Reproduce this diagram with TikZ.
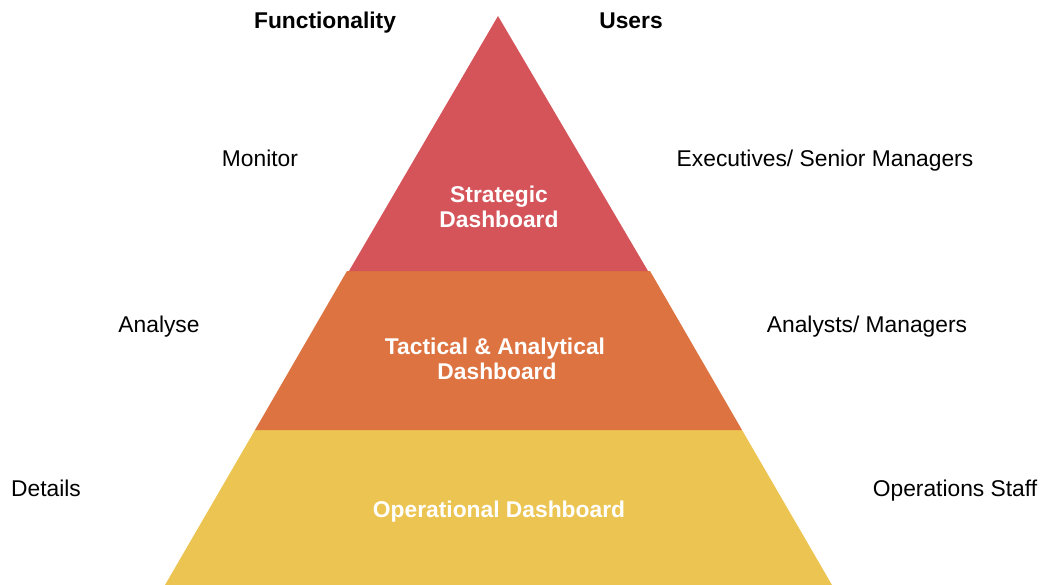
\documentclass[tikz,border=0pt]{standalone}
\usepackage{fontspec}
\setmainfont{Liberation Sans}
\begin{document}
\begin{tikzpicture}[x=1pt,y=-1pt,
  lbl/.style={anchor=base,inner sep=0pt,font=\fontsize{22.8}{25}\selectfont},
  head/.style={lbl,font=\fontsize{22.8}{25}\selectfont\bfseries},
  inlbl/.style={head,text=white,align=center}]
\definecolor{stratred}{RGB}{212,84,90}
\definecolor{tactorange}{RGB}{221,115,64}
\definecolor{opyellow}{RGB}{235,196,82}
\useasboundingbox (0,0) rectangle (1040,585);
% pyramid layers
\fill[opyellow] (255,430) -- (742,430) -- (832,585) -- (165,585) -- cycle;
\fill[tactorange] (347,271) -- (650,271) -- (742,430) -- (255,430) -- cycle;
\fill[stratred] (498,16) -- (648,271) -- (349,271) -- cycle;
% layer titles
\node[inlbl] (strat1) at (499,203) {Strategic};
\node[inlbl] (strat2) at (499,228) {Dashboard};
\node[inlbl] (tact1) at (495,354) {Tactical \& Analytical};
\node[inlbl] (tact2) at (497,379) {Dashboard};
\node[inlbl] (oper) at (499,517) {Operational Dashboard};
% column headings
\node[head] (func) at (325,29) {Functionality};
\node[head] (users) at (631,29) {Users};
% functionality column
\node[lbl] (monitor) at (260,167) {Monitor};
\node[lbl] (analyse) at (159,332) {Analyse};
\node[lbl] (details) at (46,496) {Details};
% users column
\node[lbl] (execs) at (825,167) {Executives/ Senior Managers};
\node[lbl] (analysts) at (867,332) {Analysts/ Managers};
\node[lbl] (staff) at (955,496) {Operations Staff};
\end{tikzpicture}
\end{document}
